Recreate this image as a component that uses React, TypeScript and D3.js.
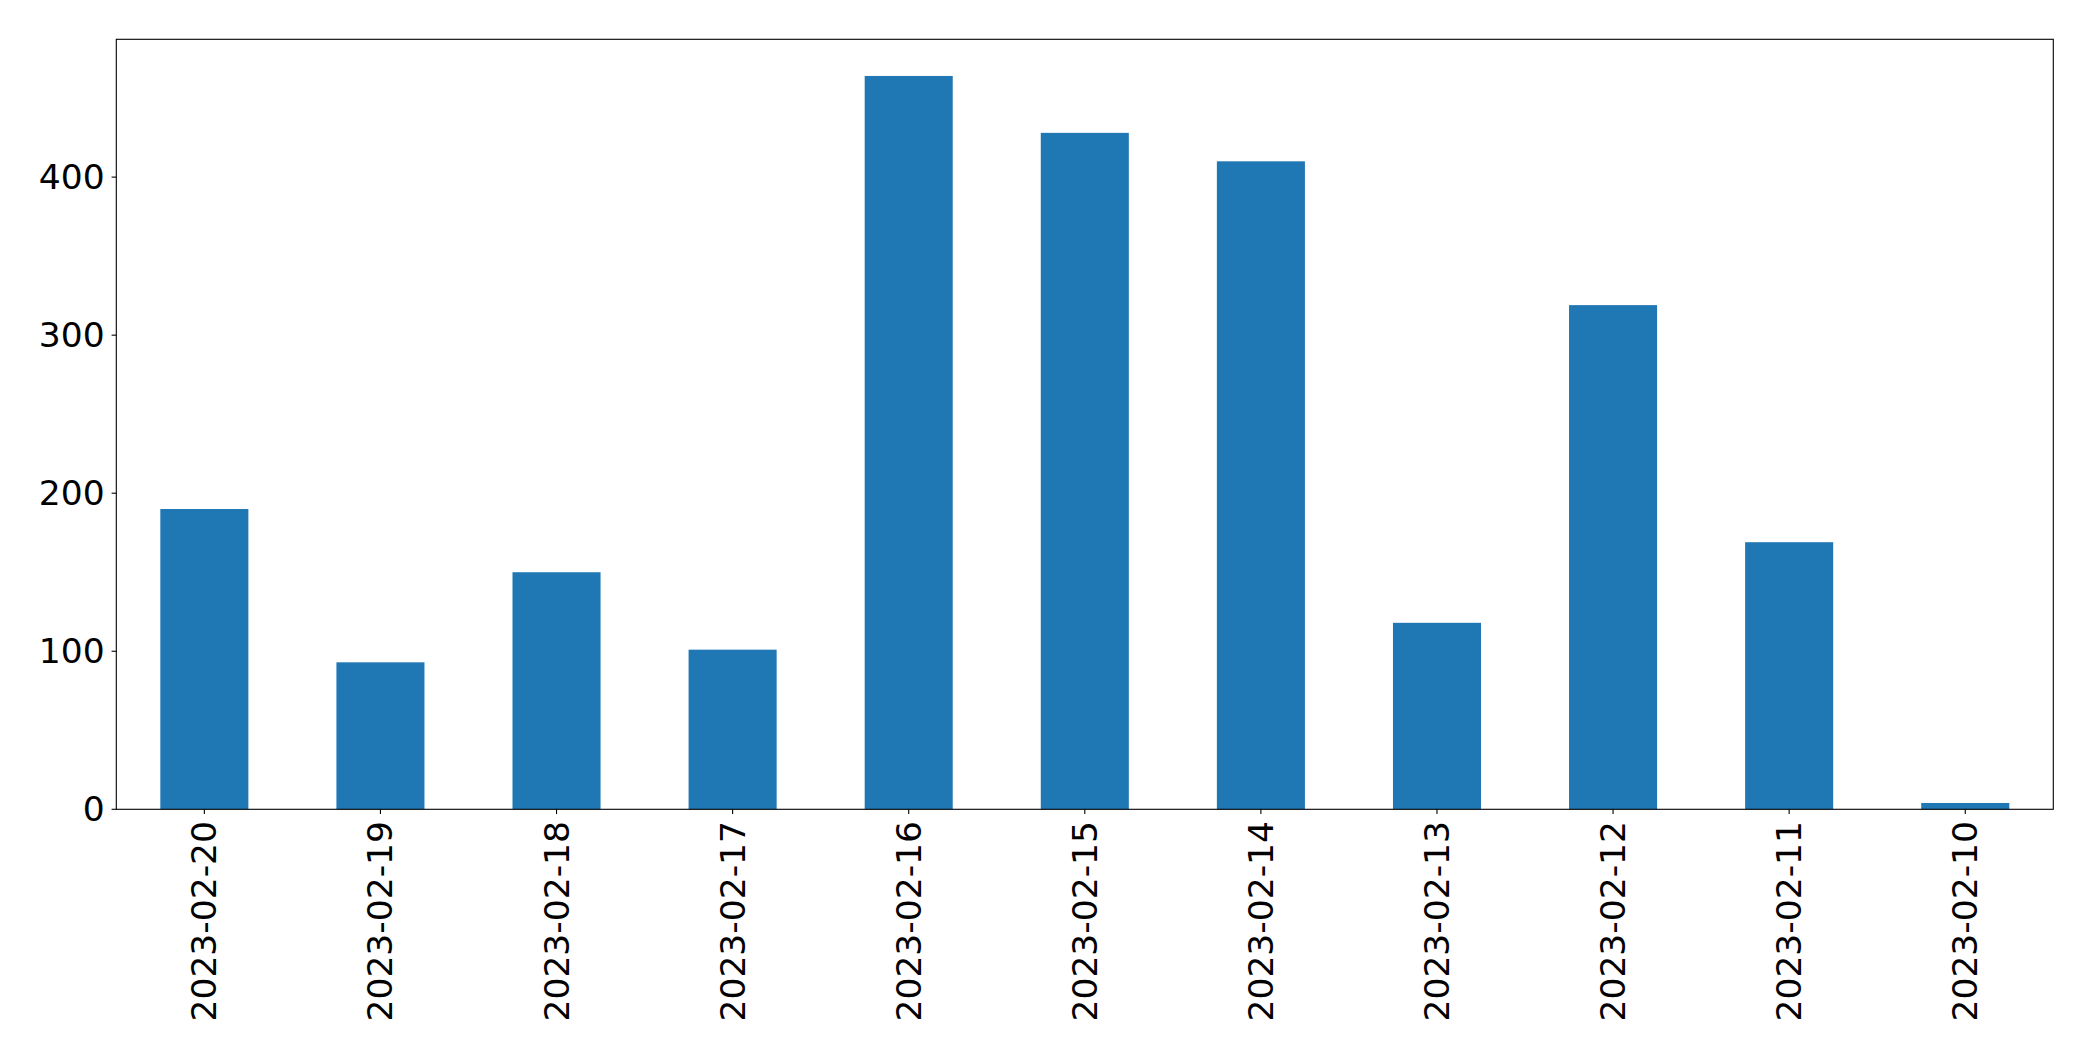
import React from "react";
import * as d3 from "d3";

const categories = [
  "2023-02-20", "2023-02-19", "2023-02-18", "2023-02-17", "2023-02-16", "2023-02-15",
  "2023-02-14", "2023-02-13", "2023-02-12", "2023-02-11", "2023-02-10",
];
const values = [190, 93, 150, 101, 464, 428, 410, 118, 319, 169, 4];
const yTicks = [0, 100, 200, 300, 400];

const W = 2093;
const H = 1061;
const M = { left: 116.3, right: 2053.3, top: 39.3, bottom: 809.3 };
const FONT = "'DejaVu Sans', sans-serif";
const FS = 34.5;

export default function App() {
  const x = d3
    .scaleLinear()
    .domain([-0.5, categories.length - 0.5])
    .range([M.left, M.right]);
  const yMax = d3.max(values)! * 1.05;
  const y = d3.scaleLinear().domain([0, yMax]).range([M.bottom, M.top]);
  const bw = x(0.25) - x(-0.25);
  const tickLen = 4.7;

  return (
    <svg
      width={W}
      height={H}
      style={{ position: "absolute", left: 0, top: 0, background: "#fff" }}
      fontFamily={FONT}
    >
      <rect x={0} y={0} width={W} height={H} fill="#fff" />
      {values.map((v, i) => (
        <rect
          key={categories[i]}
          x={x(i) - bw / 2}
          y={y(v)}
          width={bw}
          height={y(0) - y(v)}
          fill="#1f77b4"
        />
      ))}
      <rect
        x={M.left}
        y={M.top}
        width={M.right - M.left}
        height={M.bottom - M.top}
        fill="none"
        stroke="#000"
        strokeWidth={1.1}
      />
      {yTicks.map((t) => (
        <g key={t}>
          <line x1={M.left - tickLen} x2={M.left} y1={y(t)} y2={y(t)} stroke="#000" strokeWidth={1.1} />
          <text
            x={M.left - tickLen - 7}
            y={y(t)}
            textAnchor="end"
            dominantBaseline="central"
            fontSize={FS}
            fill="#000"
          >
            {t}
          </text>
        </g>
      ))}
      {categories.map((c, i) => (
        <g key={c}>
          <line x1={x(i)} x2={x(i)} y1={M.bottom} y2={M.bottom + tickLen} stroke="#000" strokeWidth={1.1} />
          <text
            transform={`translate(${x(i)},${M.bottom + tickLen + 7}) rotate(-90)`}
            textAnchor="end"
            dominantBaseline="central"
            fontSize={FS}
            fill="#000"
          >
            {c}
          </text>
        </g>
      ))}
    </svg>
  );
}
